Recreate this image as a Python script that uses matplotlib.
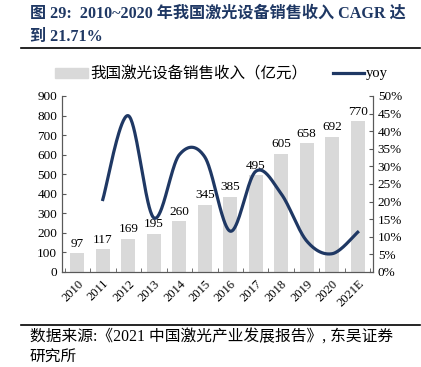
import matplotlib
matplotlib.use("Agg")
import matplotlib.pyplot as plt
import numpy as np

plt.rcParams['font.family'] = ['Liberation Serif', 'Noto Sans CJK SC', 'DejaVu Sans']

years = ['2010', '2011', '2012', '2013', '2014', '2015', '2016', '2017',
         '2018', '2019', '2020', '2021E']
revenue = [97, 117, 169, 195, 260, 345, 385, 495, 605, 658, 692, 770]
yoy = [20.6, 44.4, 15.4, 33.3, 32.7, 11.6, 28.6, 22.2, 8.8, 5.2, 11.3]  # 2011..2021E, %

NAVY = '#1f3864'
BAR = '#d9d9d9'
SERIF_CJK = ['Liberation Serif', 'Noto Sans CJK SC']


def smooth_curve(x, y, steps=40):
    # Catmull-Rom style smoothing (similar to the "smoothed line" of office charts)
    x = np.asarray(x, float)
    y = np.asarray(y, float)
    xp = np.concatenate([[x[0]], x, [x[-1]]])
    yp = np.concatenate([[y[0]], y, [y[-1]]])
    xs, ys = [], []
    for i in range(1, len(xp) - 2):
        t = np.linspace(0, 1, steps)
        mx0 = (xp[i + 1] - xp[i - 1]) / 2
        mx1 = (xp[i + 2] - xp[i]) / 2
        my0 = (yp[i + 1] - yp[i - 1]) / 2
        my1 = (yp[i + 2] - yp[i]) / 2
        h00 = 2 * t ** 3 - 3 * t ** 2 + 1
        h10 = t ** 3 - 2 * t ** 2 + t
        h01 = -2 * t ** 3 + 3 * t ** 2
        h11 = t ** 3 - t ** 2
        xs.append(h00 * xp[i] + h10 * mx0 + h01 * xp[i + 1] + h11 * mx1)
        ys.append(h00 * yp[i] + h10 * my0 + h01 * yp[i + 1] + h11 * my1)
    return np.concatenate(xs), np.concatenate(ys)


fig = plt.figure(figsize=(4.21, 3.67), dpi=100)
ax = fig.add_axes([62 / 421, 1 - 272 / 367, (373 - 62) / 421, (272 - 96) / 367])

x = np.arange(len(years))
ax.bar(x, revenue, width=0.56, color=BAR, zorder=1)
for xi, v in zip(x, revenue):
    ax.text(xi, v + 18, str(v), ha='center', va='bottom', fontsize=9.5, zorder=5)

ax.set_ylim(0, 900)
ax.set_yticks(range(0, 901, 100))
ax.set_xlim(-0.6, len(years) - 0.4)
ax.set_xticks(x)
ax.set_xticklabels(years, rotation=45, ha='right', rotation_mode='anchor', fontsize=9)
ax.tick_params(axis='x', length=0, pad=4)
ax.set_xticks(np.arange(-0.5, len(years), 1), minor=True)
ax.tick_params(axis='x', which='minor', direction='in', length=3, color='#595959')
ax.tick_params(axis='y', direction='in', length=3, labelsize=9.5, color='#595959')
ax.spines['top'].set_visible(False)
for s in ['left', 'bottom', 'right']:
    ax.spines[s].set_color('#595959')
    ax.spines[s].set_linewidth(0.8)

ax2 = ax.twinx()
xs, ys = smooth_curve(x[1:], yoy)
ax2.plot(xs, ys, color=NAVY, lw=2.3, zorder=4)
ax2.set_ylim(0, 50)
ax2.set_yticks(range(0, 51, 5))
ax2.set_yticklabels([f'{v}%' for v in range(0, 51, 5)])
ax2.tick_params(axis='y', direction='in', length=3, labelsize=9.5, color='#595959')
ax2.spines['top'].set_visible(False)
for s in ['left', 'bottom', 'right']:
    ax2.spines[s].set_color('#595959')
    ax2.spines[s].set_linewidth(0.8)

# title
fig.text(30 / 421, 1 - 14 / 367, '图 29:  2010~2020 年我国激光设备销售收入 CAGR 达',
         fontsize=11.6, fontweight='bold', color=NAVY, va='center', family=SERIF_CJK)
fig.text(30 / 421, 1 - 37 / 367, '到 21.71%', fontsize=11.6, fontweight='bold',
         color=NAVY, va='center', family=SERIF_CJK)
fig.add_artist(plt.Line2D([21 / 421, 420 / 421], [1 - 48 / 367] * 2, color='black', lw=1.2))

# legend (drawn by hand)
fig.patches.append(plt.Rectangle((55 / 421, 1 - 78 / 367), 33 / 421, 10 / 367,
                                 transform=fig.transFigure, color=BAR))
fig.text(90 / 421, 1 - 73 / 367, '我国激光设备销售收入（亿元）', fontsize=11.2,
         va='center', family=['Noto Sans CJK SC', 'DejaVu Sans'])
fig.add_artist(plt.Line2D([333 / 421, 364 / 421], [1 - 73 / 367] * 2, color=NAVY, lw=2.3))
fig.text(366 / 421, 1 - 73 / 367, 'yoy', fontsize=10.5, va='center')

# source
fig.add_artist(plt.Line2D([21 / 421, 420 / 421], [1 - 325 / 367] * 2, color='black', lw=1.2))
fig.text(30 / 421, 1 - 338 / 367, '数据来源:《2021 中国激光产业发展报告》, 东吴证券',
         fontsize=11.3, va='center', family=SERIF_CJK)
fig.text(30 / 421, 1 - 366 / 367, '研究所', fontsize=11.3, va='bottom', family=SERIF_CJK)

fig.savefig('out.png', dpi=100)
